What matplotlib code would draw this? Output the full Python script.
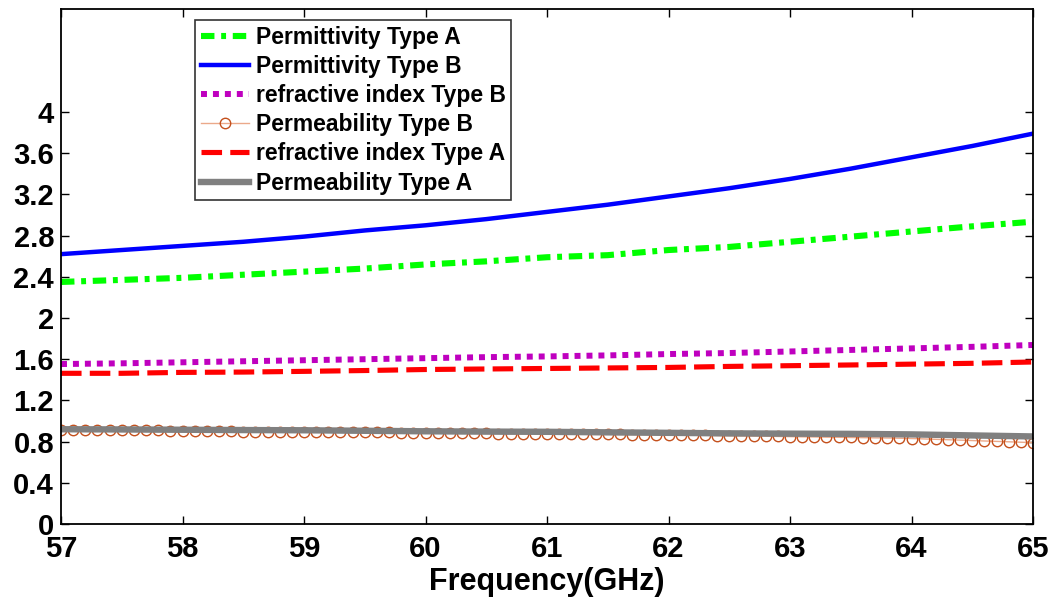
import numpy as np
import matplotlib
matplotlib.use("Agg")
import matplotlib.pyplot as plt

plt.rcParams['font.family'] = ['Liberation Sans', 'DejaVu Sans']
plt.rcParams['font.weight'] = 'bold'

# Frequency grids (GHz)
freq_coarse = [57.0, 57.5, 58.0, 58.5, 59.0, 59.5, 60.0, 60.5, 61.0,
               61.5, 62.0, 62.5, 63.0, 63.5, 64.0, 64.5, 65.0]
freq_fine = [round(57.0 + 0.1 * i, 1) for i in range(81)]

permittivity_a = [2.35, 2.37, 2.39, 2.42, 2.45, 2.48, 2.52, 2.55, 2.59,
                  2.61, 2.66, 2.69, 2.74, 2.79, 2.84, 2.89, 2.935]
permittivity_b = [2.62, 2.66, 2.70, 2.74, 2.79, 2.85, 2.90, 2.96, 3.03,
                  3.10, 3.18, 3.26, 3.35, 3.45, 3.56, 3.67, 3.79]
refractive_b = [1.553, 1.56, 1.57, 1.58, 1.59, 1.60, 1.61, 1.62, 1.627,
                1.637, 1.65, 1.66, 1.675, 1.69, 1.705, 1.72, 1.738]
refractive_a = [1.463, 1.463, 1.472, 1.475, 1.482, 1.49, 1.50, 1.505, 1.51,
                1.515, 1.52, 1.53, 1.537, 1.544, 1.552, 1.56, 1.573]
permeability_a = [0.92, 0.918, 0.915, 0.912, 0.91, 0.905, 0.90, 0.897, 0.895,
                  0.89, 0.885, 0.88, 0.877, 0.875, 0.87, 0.86, 0.85]
permeability_b = [0.912, 0.912, 0.912, 0.912, 0.912, 0.912, 0.912, 0.912, 0.91, 0.905,
                  0.90, 0.90, 0.90, 0.90, 0.90, 0.898, 0.898, 0.898, 0.897, 0.895,
                  0.895, 0.895, 0.893, 0.893, 0.892, 0.89, 0.89, 0.89, 0.888, 0.886,
                  0.883, 0.883, 0.882, 0.88, 0.88, 0.88, 0.878, 0.877, 0.876, 0.875,
                  0.873, 0.872, 0.872, 0.871, 0.87, 0.87, 0.869, 0.868, 0.867, 0.866,
                  0.865, 0.864, 0.863, 0.862, 0.858, 0.856, 0.855, 0.854, 0.852, 0.85,
                  0.848, 0.846, 0.845, 0.843, 0.842, 0.84, 0.838, 0.836, 0.835, 0.833,
                  0.83, 0.826, 0.822, 0.818, 0.814, 0.81, 0.806, 0.802, 0.798, 0.794,
                  0.79]

x_ticks = [57, 58, 59, 60, 61, 62, 63, 64, 65]
y_ticks = [0, 0.4, 0.8, 1.2, 1.6, 2.0, 2.4, 2.8, 3.2, 3.6, 4.0]
y_tick_labels = ['0', '0.4', '0.8', '1.2', '1.6', '2', '2.4', '2.8', '3.2', '3.6', '4']

fig = plt.figure(figsize=(10.61, 6.01), dpi=100)
ax = fig.add_axes([61 / 1061, 1 - 524 / 601, (1033 - 61) / 1061, (524 - 9) / 601])

ax.plot(freq_coarse, permittivity_a, color='#00ff00', lw=4.4,
        dashes=(2.2, 1.1, 0.8, 1.1), dash_capstyle='butt',
        label='Permittivity Type A')
ax.plot(freq_coarse, permittivity_b, color='#0000ff', lw=3.2,
        label='Permittivity Type B')
ax.plot(freq_coarse, refractive_b, color='#bf00bf', lw=4.3,
        dashes=(1, 1), dash_capstyle='butt',
        label='refractive index Type B')
ax.plot(freq_fine, permeability_b, color='#eba98a', lw=1.0, marker='o',
        markersize=7.5, markerfacecolor='none', markeredgecolor='#c4501c',
        markeredgewidth=1.0, label='Permeability Type B')
ax.plot(freq_coarse, refractive_a, color='#ff0000', lw=3.7,
        dashes=(4, 1.6), dash_capstyle='butt',
        label='refractive index Type A')
ax.plot(freq_coarse, permeability_a, color='#808080', lw=4.6,
        label='Permeability Type A')

ax.set_xlim(57, 65)
ax.set_ylim(0, 5)
ax.set_xticks(x_ticks)
ax.set_xticklabels([str(t) for t in x_ticks])
ax.set_yticks(y_ticks)
ax.set_yticklabels(y_tick_labels)
ax.tick_params(direction='in', length=6, width=1.0, top=True, right=True,
               labelsize=21)
ax.tick_params(axis='x', pad=8)
ax.tick_params(axis='y', pad=5)
for lab in ax.get_xticklabels() + ax.get_yticklabels():
    lab.set_fontweight('bold')
for sp in ax.spines.values():
    sp.set_linewidth(1.3)

ax.set_xlabel('Frequency(GHz)', fontsize=22, fontweight='bold', labelpad=3)

leg = ax.legend(loc='upper left', bbox_to_anchor=(195 / 1061, 1 - 20 / 601),
                bbox_transform=fig.transFigure,
                prop={'weight': 'bold', 'size': 16.5},
                handlelength=2.1, handletextpad=0.3, labelspacing=0.27,
                borderpad=0.25, borderaxespad=0, fancybox=False, frameon=True)
leg.get_frame().set_edgecolor('black')
leg.get_frame().set_linewidth(1.2)

fig.savefig('out.png', dpi=100)
